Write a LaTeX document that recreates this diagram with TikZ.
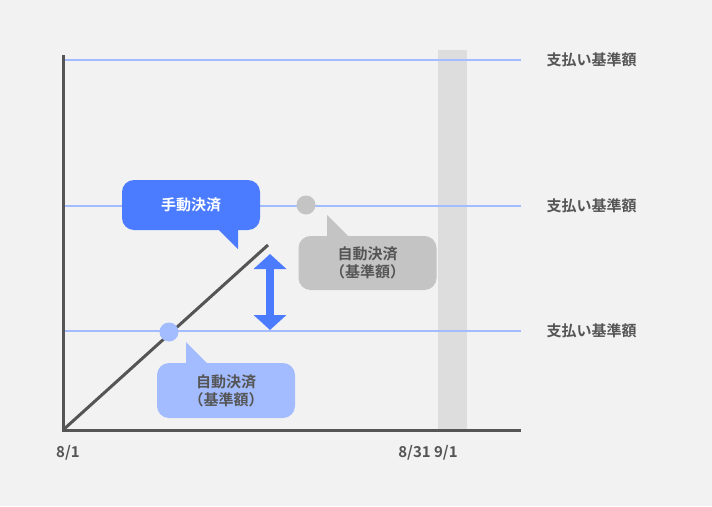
\documentclass[tikz,border=0pt]{standalone}
\usepackage{fontspec}
\setmainfont{Noto Sans CJK JP}[BoldFont={Noto Sans CJK JP Bold}]
\usetikzlibrary{arrows.meta}
\definecolor{bgcol}{HTML}{F2F2F2}
\definecolor{bandcol}{HTML}{DDDDDD}
\definecolor{axiscol}{HTML}{555555}
\definecolor{linecol}{HTML}{A3BCFF}
\definecolor{mancol}{HTML}{4B7BFF}
\definecolor{autocol}{HTML}{C4C4C4}
\definecolor{textcol}{HTML}{555555}
\tikzset{
  base/.style={draw=linecol,line width=2.2pt},
  axis/.style={draw=axiscol,line width=3pt},
  lbl/.style={text=textcol,font=\bfseries\fontsize{15}{18}\selectfont},
  bubble/.style={rounded corners=12pt,minimum width=138pt,minimum height=53pt,align=center,
    font=\bfseries\fontsize{15}{18}\selectfont,inner sep=0pt},
}
\begin{document}
\begin{tikzpicture}[x=1pt,y=-1pt]
\useasboundingbox (0,0) rectangle (712,506);
\fill[bgcol] (0,0) rectangle (712,506);
\fill[bandcol] (438,50) rectangle (467,430);
% base lines
\foreach \name/\yy in {top/60,mid/206,low/331}{
  \coordinate (\name l) at (63,\yy);
  \coordinate (\name r) at (521,\yy);
  \draw[base] (\name l) -- (\name r);
  \node[lbl,anchor=west] (\name t) at (543,\yy) {支払い基準額};
}
% axes
\coordinate (o) at (63,430);
\coordinate (ytop) at (63,55);
\coordinate (xend) at (521,430);
\draw[axis] (ytop) -- (o) -- (xend);
\coordinate (dend) at (268,245);
\draw[axis] (o) -- (dend);
\node[lbl] (d1) at (68,453) {8/1};
\node[lbl] (d2) at (428,453) {8/31 9/1};
% manual bubble
\node[bubble,fill=mancol,text=white,minimum height=50pt] (man) at (191,205) {手動決済};
\fill[mancol] (218,229) -- (238,249) -- (238,229) -- cycle;
% auto bubble (gray)
\fill[autocol] (306,205) circle (9.5);
\node[bubble,fill=autocol,text=textcol,minimum height=54pt] (autog) at (367.5,263) {自動決済\\（基準額）};
\fill[autocol] (327,238) -- (327,215) -- (350,238) -- cycle;
% auto bubble (blue)
\fill[linecol] (169,332) circle (9.5);
\node[bubble,fill=linecol,text=textcol,minimum height=55pt] (autob) at (226,390.5) {自動決済\\（基準額）};
\fill[linecol] (186,365) -- (186,342) -- (209,365) -- cycle;
% gap arrow
\coordinate (gt) at (270,254);
\coordinate (gb) at (270,330);
\draw[mancol,line width=8pt,{Triangle[width=32pt,length=15pt]}-{Triangle[width=32pt,length=15pt]}] (gt) -- (gb);
\end{tikzpicture}
\end{document}
